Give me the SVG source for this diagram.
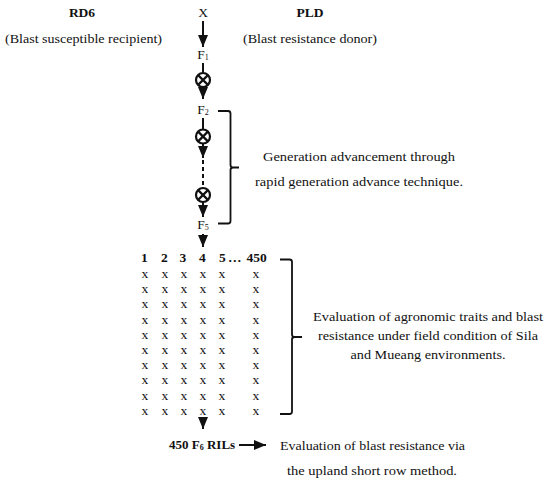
<svg xmlns="http://www.w3.org/2000/svg" width="550" height="485" viewBox="0 0 550 485" font-family="'Liberation Serif', 'Times New Roman', serif">
<style>
text{font-family:"Liberation Serif","Times New Roman",serif;font-size:13.5px;fill:#111}
.b{font-weight:bold}
.m{text-anchor:middle}
.sub{font-size:8px}
.ln{stroke:#111;stroke-width:2;fill:none}
.br{stroke:#111;stroke-width:1.8;fill:none}
.ring{stroke:#111;stroke-width:2.2;fill:#fff}
.x{font-size:12.5px}
</style>
<defs>
<marker id="ah" viewBox="0 0 12 10" refX="12" refY="5" markerWidth="12" markerHeight="10" markerUnits="userSpaceOnUse" orient="auto">
<path d="M0,0 L12,5 L0,10 z" fill="#111"/>
</marker>
<g id="selfing">
<circle cx="0" cy="0" r="7" class="ring"/>
<path d="M-4.9,-4.9 L4.9,4.9 M-4.9,4.9 L4.9,-4.9" stroke="#111" stroke-width="2.2"/>
</g>
</defs>
<g id="parent-rd6">
<text x="82" y="17" class="b m">RD6</text>
<text x="83.5" y="43" class="m" textLength="157" lengthAdjust="spacingAndGlyphs">(Blast susceptible recipient)</text>
</g>
<g id="cross">
<text x="203" y="17" class="m">X</text>
</g>
<g id="parent-pld">
<text x="310" y="17" class="b m">PLD</text>
<text x="310" y="43" class="m" textLength="134" lengthAdjust="spacingAndGlyphs">(Blast resistance donor)</text>
</g>
<g id="f1"><text x="203" y="59" class="m">F<tspan class="sub" dy="0.5">1</tspan></text></g>
<g id="self1"><use href="#selfing" x="203" y="80"/></g>
<g id="f2"><text x="203" y="114" class="m">F<tspan class="sub" dy="0.5">2</tspan></text></g>
<g id="self2"><use href="#selfing" x="203" y="136.5"/></g>
<g id="self3"><use href="#selfing" x="203" y="195"/></g>
<g id="f5"><text x="203" y="229" class="m">F<tspan class="sub" dy="0.5">5</tspan></text></g>
<g id="connectors">
<line x1="203" y1="21" x2="203" y2="47" class="ln" marker-end="url(#ah)"/>
<line x1="203" y1="63" x2="203" y2="73" class="ln"/>
<line x1="203" y1="87" x2="203" y2="99" class="ln" marker-end="url(#ah)"/>
<line x1="203" y1="118" x2="203" y2="129.5" class="ln"/>
<line x1="203" y1="143.5" x2="203" y2="158" class="ln" marker-end="url(#ah)"/>
<line x1="203" y1="160" x2="203" y2="188" class="ln" stroke-dasharray="4,3"/>
<line x1="203" y1="202" x2="203" y2="217" class="ln" marker-end="url(#ah)"/>
<line x1="203" y1="234" x2="203" y2="247" class="ln" marker-end="url(#ah)"/>
<line x1="203" y1="418" x2="203" y2="429" class="ln" marker-end="url(#ah)"/>
<line x1="239" y1="445" x2="266" y2="445" class="ln" marker-end="url(#ah)"/>
</g>
<g id="bracket-generation">
<path d="M218,111 L228,111 Q230.5,111 230.5,113.5 L230.5,165 Q230.5,167.5 233,167.5 L239,167.5 M233,167.5 Q230.5,167.5 230.5,170 L230.5,221 Q230.5,223.5 228,223.5 L218,223.5" class="br"/>
</g>
<g id="note-generation">
<text x="359" y="161" class="m" textLength="192" lengthAdjust="spacingAndGlyphs">Generation advancement through</text>
<text x="359" y="186" class="m" textLength="208" lengthAdjust="spacingAndGlyphs">rapid generation advance technique.</text>
</g>
<g id="ril-matrix">
<text y="262" class="b"><tspan x="141">1</tspan><tspan x="161">2</tspan><tspan x="179.5">3</tspan><tspan x="199">4</tspan><tspan x="219">5</tspan><tspan x="228">…</tspan><tspan x="246.5">450</tspan></text>
<g class="x">
<text y="278"><tspan x="141.5">x</tspan><tspan x="161.5">x</tspan><tspan x="180.5">x</tspan><tspan x="199.5">x</tspan><tspan x="218.5">x</tspan><tspan x="252.5">x</tspan></text>
<text y="293.2"><tspan x="141.5">x</tspan><tspan x="161.5">x</tspan><tspan x="180.5">x</tspan><tspan x="199.5">x</tspan><tspan x="218.5">x</tspan><tspan x="252.5">x</tspan></text>
<text y="308.4"><tspan x="141.5">x</tspan><tspan x="161.5">x</tspan><tspan x="180.5">x</tspan><tspan x="199.5">x</tspan><tspan x="218.5">x</tspan><tspan x="252.5">x</tspan></text>
<text y="323.6"><tspan x="141.5">x</tspan><tspan x="161.5">x</tspan><tspan x="180.5">x</tspan><tspan x="199.5">x</tspan><tspan x="218.5">x</tspan><tspan x="252.5">x</tspan></text>
<text y="338.8"><tspan x="141.5">x</tspan><tspan x="161.5">x</tspan><tspan x="180.5">x</tspan><tspan x="199.5">x</tspan><tspan x="218.5">x</tspan><tspan x="252.5">x</tspan></text>
<text y="354"><tspan x="141.5">x</tspan><tspan x="161.5">x</tspan><tspan x="180.5">x</tspan><tspan x="199.5">x</tspan><tspan x="218.5">x</tspan><tspan x="252.5">x</tspan></text>
<text y="369.2"><tspan x="141.5">x</tspan><tspan x="161.5">x</tspan><tspan x="180.5">x</tspan><tspan x="199.5">x</tspan><tspan x="218.5">x</tspan><tspan x="252.5">x</tspan></text>
<text y="384.4"><tspan x="141.5">x</tspan><tspan x="161.5">x</tspan><tspan x="180.5">x</tspan><tspan x="199.5">x</tspan><tspan x="218.5">x</tspan><tspan x="252.5">x</tspan></text>
<text y="399.6"><tspan x="141.5">x</tspan><tspan x="161.5">x</tspan><tspan x="180.5">x</tspan><tspan x="199.5">x</tspan><tspan x="218.5">x</tspan><tspan x="252.5">x</tspan></text>
<text y="414.8"><tspan x="141.5">x</tspan><tspan x="161.5">x</tspan><tspan x="180.5">x</tspan><tspan x="199.5">x</tspan><tspan x="218.5">x</tspan><tspan x="252.5">x</tspan></text>
</g>
</g>
<g id="bracket-field">
<path d="M280,259.5 L289.5,259.5 Q292,259.5 292,262 L292,334.5 Q292,337 294.5,337 L302,337 M294.5,337 Q292,337 292,339.5 L292,411.5 Q292,414 289.5,414 L280,414" class="br"/>
</g>
<g id="note-field">
<text x="428" y="321" class="m" textLength="230" lengthAdjust="spacingAndGlyphs">Evaluation of agronomic traits and blast</text>
<text x="428" y="340" class="m" textLength="220" lengthAdjust="spacingAndGlyphs">resistance under field condition of Sila</text>
<text x="428" y="359" class="m" textLength="155" lengthAdjust="spacingAndGlyphs">and Mueang environments.</text>
</g>
<g id="rils">
<text x="169" y="449" class="b" style="font-size:13px">450 F<tspan class="sub" dy="0.5">6</tspan><tspan dy="-0.5"> RILs</tspan></text>
</g>
<g id="note-upland">
<text x="280" y="450" textLength="185" lengthAdjust="spacingAndGlyphs">Evaluation of blast resistance via</text>
<text x="287" y="475" textLength="170" lengthAdjust="spacingAndGlyphs">the upland short row method.</text>
</g>
</svg>
